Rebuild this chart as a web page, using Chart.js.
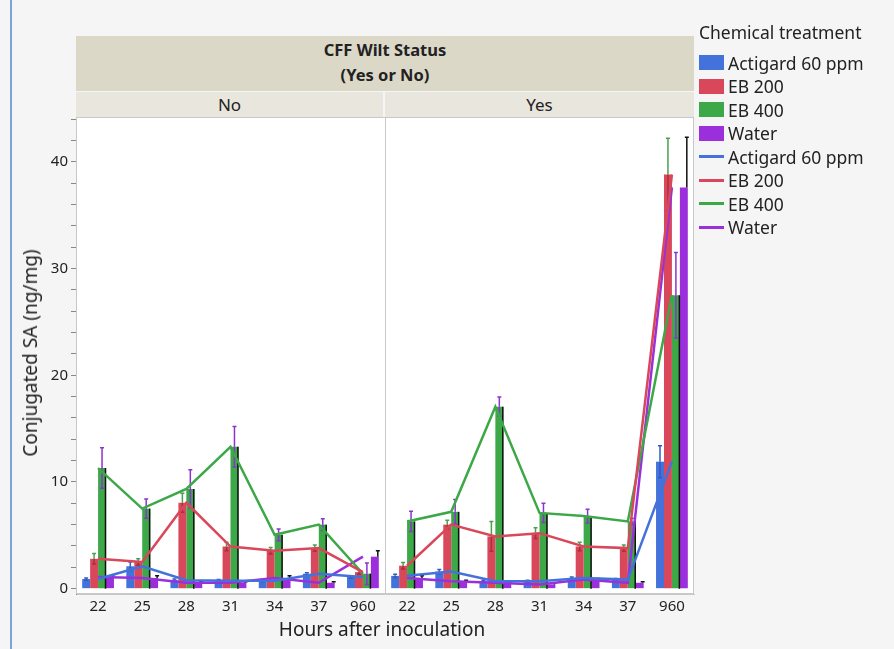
<!DOCTYPE html>
<html>
<head>
<meta charset="utf-8">
<script src="https://cdn.jsdelivr.net/npm/chart.js@4/dist/chart.umd.min.js"></script>
<style>
  body { margin: 0; background: #f5f5f5; font-family: "Noto Sans", sans-serif; color: #222; }
  #wrap { position: relative; width: 894px; height: 649px; overflow: hidden; }
  #edge { position: absolute; left: 10px; top: 0; width: 2px; height: 649px; background: #7ea3d9; }
  #title { position: absolute; left: 76px; top: 36px; width: 618px; height: 55px; background: #dbd8c8;
           text-align: center; font-weight: bold; font-size: 16.5px; line-height: 25px; padding-top: 1px; box-sizing: border-box; }
  .cell { position: absolute; top: 92px; height: 25px; background: #e8e6dd; text-align: center; font-size: 17px; line-height: 25px; }
  #ytitle { position: absolute; left: 30px; top: 353px; transform: translate(-50%, -50%) rotate(-90deg);
            font-size: 19px; white-space: nowrap; }
  #xtitle { position: absolute; left: 382px; top: 629px; transform: translate(-50%, -50%); font-size: 19px; white-space: nowrap; }
  #legend { position: absolute; left: 699px; top: 19px; font-size: 17.5px; }
  #legend .head { height: 26px; line-height: 26px; margin-bottom: 6px; }
  #legend .row { height: 23.5px; display: flex; align-items: center; }
  #legend .sw { width: 25px; margin-right: 4px; }
  #chartBox { position: absolute; left: 0; top: 0; width: 894px; height: 649px; }
</style>
</head>
<body>
<div id="wrap">
  <div id="edge"></div>
  <div id="title">CFF Wilt Status<br>(Yes or No)</div>
  <div class="cell" style="left:76px;width:307px;">No</div>
  <div class="cell" style="left:385px;width:309px;">Yes</div>
  <div id="chartBox"><canvas id="c" width="894" height="649"></canvas></div>
  <div id="ytitle">Conjugated SA (ng/mg)</div>
  <div id="xtitle">Hours after inoculation</div>
  <div id="legend"></div>
</div>
<script>
const hours = ['22', '25', '28', '31', '34', '37', '960'];
const panels = ['No', 'Yes'];
const treatments = ['Actigard 60 ppm', 'EB 200', 'EB 400', 'Water'];
const colors = ['#4472db', '#d9485a', '#3ca847', '#9c2fdc'];

// means, No panel then Yes panel
const actigard = [0.9, 2.1, 0.8, 0.75, 0.75, 1.4, 1.1,   1.2, 1.6, 0.7, 0.7, 1.0, 0.85, 11.9];
const eb200    = [2.8, 2.5, 8.05, 3.95, 3.55, 3.8, 1.55, 2.15, 6.0, 4.9, 5.2, 3.95, 3.8, 38.8];
const eb400    = [11.3, 7.5, 9.35, 13.3, 5.05, 6.0, 1.4, 6.3, 7.2, 17.05, 7.1, 6.8, 6.3, 27.5];
const water    = [1.1, 1.0, 0.55, 0.55, 1.0, 0.55, 3.0,  1.0, 0.7, 0.55, 0.4, 0.85, 0.55, 37.6];

// error bar half widths
const actigardErr = [0.1, 0.4, 0.1, 0.1, 0.1, 0.1, 0.1,  0.15, 0.2, 0.1, 0.1, 0.1, 0.1, 1.5];
const eb200Err    = [0.5, 0.3, 0.9, 0.4, 0.3, 0.3, 0.2,  0.3, 0.4, 1.4, 0.5, 0.4, 0.3, 3.4];
const eb400Err    = [1.9, 0.9, 1.8, 1.9, 0.55, 0.55, 1.0, 0.95, 1.15, 0.9, 0.9, 0.65, 0.3, 4.0];
const waterErr    = [0.2, 0.2, 0.1, 0.1, 0.2, 0.1, 0.55, 0.2, 0.1, 0.1, 0.1, 0.1, 0.1, 4.7];

const values = [actigard, eb200, eb400, water];
const errors = [actigardErr, eb200Err, eb400Err, waterErr];
// how each series' error bar looks
const errStyle = [
  { up: '#2f5cc4', down: '#2f5cc4', pos: 'center' },
  { up: '#4aa050', down: '#a8303c', pos: 'center' },
  { up: '#8a35d0', down: '#8a35d0', pos: 'center', edge: true },
  { up: '#111', down: null, pos: 'right' },
];

const labels = panels.flatMap(() => hours);
const FONT = '"Noto Sans", sans-serif';

// legend
const lg = document.getElementById('legend');
let html = '<div class="head">Chemical treatment</div>';
treatments.forEach((t, i) => {
  html += `<div class="row"><div class="sw" style="height:15px;background:${colors[i]}"></div>${t}</div>`;
});
treatments.forEach((t, i) => {
  html += `<div class="row"><div class="sw" style="height:3px;background:${colors[i]}"></div>${t}</div>`;
});
lg.innerHTML = html;

const frame = {
  id: 'frame',
  beforeDraw(chart) {
    const { ctx, chartArea: a } = chart;
    ctx.save();
    ctx.fillStyle = '#fff';
    ctx.fillRect(a.left, a.top, a.right - a.left, a.bottom - a.top);
    ctx.restore();
  },
  afterDraw(chart) {
    const { ctx, chartArea: a } = chart;
    ctx.save();
    ctx.strokeStyle = '#c8c8c8';
    ctx.lineWidth = 1;
    ctx.strokeRect(a.left + 0.5, a.top + 0.5, a.right - a.left - 1, a.bottom - a.top - 1);
    const mid = Math.round((a.left + a.right) / 2) + 0.5;
    ctx.beginPath();
    ctx.moveTo(mid, a.top);
    ctx.lineTo(mid, a.bottom);
    ctx.stroke();
    ctx.restore();
  }
};

const errorBars = {
  id: 'errorBars',
  afterDatasetDraw(chart, args) {
    const di = args.index;
    if (di > 3) return;
    const { ctx } = chart;
    const y = chart.scales.y;
    const st = errStyle[di];
    const meta = chart.getDatasetMeta(di);
    ctx.save();
    ctx.lineWidth = 1.5;
    meta.data.forEach((bar, i) => {
      const v = values[di][i], e = errors[di][i];
      const x = st.pos === 'right' ? bar.x + bar.width / 2 - 1 : bar.x;
      const yv = y.getPixelForValue(v), yt = y.getPixelForValue(v + e), yb = y.getPixelForValue(v - e);
      if (st.edge) {
        ctx.strokeStyle = '#111';
        ctx.beginPath();
        ctx.moveTo(bar.x + bar.width / 2 - 0.5, yv);
        ctx.lineTo(bar.x + bar.width / 2 - 0.5, y.getPixelForValue(0));
        ctx.stroke();
      }
      if (st.down) {
        ctx.strokeStyle = st.down;
        ctx.beginPath();
        ctx.moveTo(x, yv); ctx.lineTo(x, yb);
        ctx.moveTo(x - 2, yb); ctx.lineTo(x + 2, yb);
        ctx.stroke();
      }
      ctx.strokeStyle = st.up;
      ctx.beginPath();
      ctx.moveTo(x, yv); ctx.lineTo(x, yt);
      ctx.moveTo(x - 2, yt); ctx.lineTo(x + 2, yt);
      ctx.stroke();
    });
    ctx.restore();
  }
};

const datasets = [];
treatments.forEach((t, i) => {
  datasets.push({
    type: 'bar', label: t, data: values[i], backgroundColor: colors[i],
    borderWidth: 0, categoryPercentage: 0.72, barPercentage: 1.0, order: 2
  });
});
treatments.forEach((t, i) => {
  datasets.push({
    type: 'line', label: t, data: values[i], borderColor: colors[i], borderWidth: 2.5,
    pointRadius: 0, tension: 0, fill: false, order: 1,
    segment: { borderColor: c => c.p0DataIndex === hours.length - 1 ? 'transparent' : colors[i] }
  });
});

new Chart(document.getElementById('c'), {
  data: { labels, datasets },
  options: {
    responsive: false,
    animation: false,
    layout: { padding: { left: 46, top: 117, right: 200, bottom: 25 } },
    plugins: { legend: { display: false }, tooltip: { enabled: false } },
    scales: {
      x: {
        offset: true,
        grid: { display: false, drawTicks: false },
        border: { color: '#c8c8c8' },
        ticks: { font: { size: 15, family: FONT }, color: '#222', padding: 4, autoSkip: false, maxRotation: 0 },
        afterFit(s) { s.height = 30; }
      },
      y: {
        min: -0.5, max: 44.2,
        afterFit(s) { s.width = 30; },
        afterBuildTicks(s) {
          const t = [];
          for (let v = 0; v <= 44; v += 2) t.push({ value: v });
          s.ticks = t;
        },
        ticks: { callback: v => (v % 10 === 0 ? v : ''), font: { size: 15, family: FONT }, color: '#222', padding: 3, autoSkip: false },
        grid: { drawOnChartArea: false, tickLength: 5, color: '#888' },
        border: { color: '#888' }
      }
    }
  },
  plugins: [frame, errorBars]
});
</script>
</body>
</html>
